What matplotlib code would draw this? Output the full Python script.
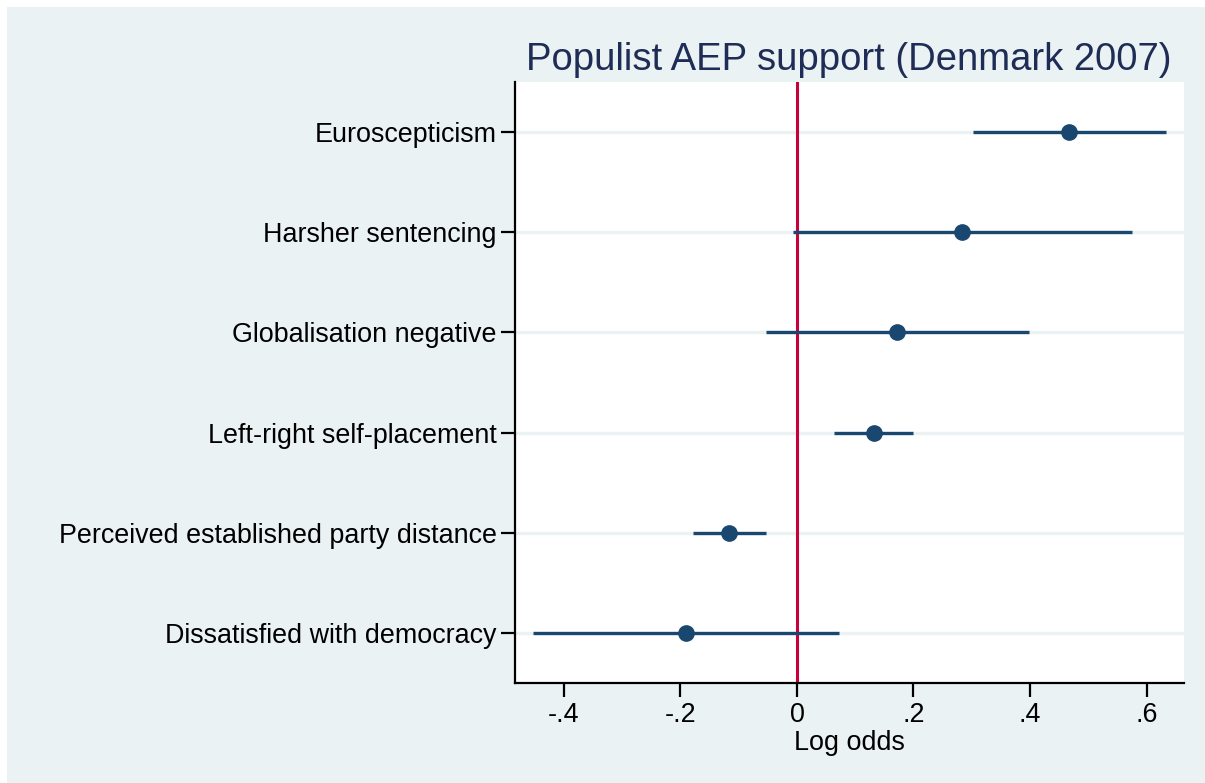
import matplotlib
matplotlib.use("Agg")
import matplotlib.pyplot as plt
from matplotlib.patches import Rectangle

labels = ["Euroscepticism", "Harsher sentencing", "Globalisation negative",
          "Left-right self-placement", "Perceived established party distance",
          "Dissatisfied with democracy"]
estimates = [0.467, 0.284, 0.172, 0.132, -0.116, -0.191]
ci_low = [0.302, -0.007, -0.053, 0.064, -0.179, -0.453]
ci_high = [0.633, 0.575, 0.398, 0.200, -0.054, 0.073]
xticks = [-0.4, -0.2, 0.0, 0.2, 0.4, 0.6]
xticklabels = ["-.4", "-.2", "0", ".2", ".4", ".6"]

W, H = 1205, 783
plt.rcParams['font.family'] = ['Liberation Sans', 'DejaVu Sans']
fig = plt.figure(figsize=(W/100, H/100), dpi=100, facecolor="white")
bg = "#EAF2F3"
fig.patches.append(Rectangle((7/W, 0), 1 - 7/W, 1 - 7/H, transform=fig.transFigure,
                             facecolor=bg, edgecolor="none", zorder=-10))

left, right, top, bottom = 515, 1183.5, 82, 683
ax = fig.add_axes([left/W, 1 - bottom/H, (right-left)/W, (bottom-top)/H])
ax.set_facecolor("white")

n = len(labels)
ypos = [n - i for i in range(n)]
for y in ypos:
    ax.axhline(y, color=bg, lw=2.4, zorder=1)
ax.axvline(0, color="#C8003C", lw=2.2, zorder=2)
navy = "#1A476F"
ax.hlines(ypos, ci_low, ci_high, color=navy, lw=2.4, zorder=3)
ax.plot(estimates, ypos, 'o', color=navy, ms=11, zorder=4)

ax.set_xlim(-0.484, 0.6635)
ax.set_ylim(0.5, n + 0.5)
ax.set_yticks(ypos)
ax.set_yticklabels(labels, fontsize=19.4)
ax.set_xticks(xticks)
ax.set_xticklabels(xticklabels, fontsize=19.4)
ax.tick_params(axis='both', length=10, width=1.6, color="black")
ax.tick_params(axis='y', pad=3)
ax.tick_params(axis='x', pad=4)
for s in ["top", "right"]:
    ax.spines[s].set_visible(False)
for s in ["left", "bottom"]:
    ax.spines[s].set_linewidth(1.6)
    ax.spines[s].set_color("black")
ax.set_xlabel("Log odds", fontsize=19.4, labelpad=1)
ax.set_title("Populist AEP support (Denmark 2007)", fontsize=27.5, color="#1F2D56", pad=9)

fig.savefig("out.png", dpi=100, facecolor="white")
